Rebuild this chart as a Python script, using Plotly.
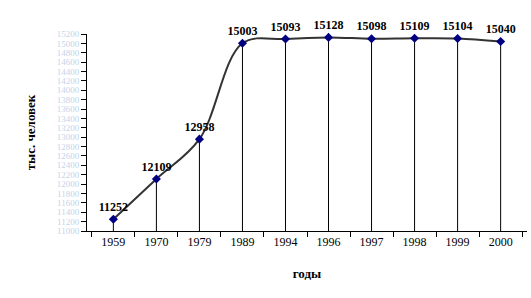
import plotly.graph_objects as go

years = ["1959", "1970", "1979", "1989", "1994", "1996", "1997", "1998", "1999", "2000"]
population = [11252, 12109, 12958, 15003, 15093, 15128, 15098, 15109, 15104, 15040]
y_ticks = list(range(11000, 15201, 200))
y_tick_labels = [str(v) for v in y_ticks]
y_base = 11000

fig = go.Figure()
fig.add_trace(go.Scatter(
    x=years, y=population,
    mode="lines+markers+text",
    line=dict(color="#333333", width=2, shape="spline", smoothing=1),
    marker=dict(symbol="diamond", size=7, color="#000080"),
    text=["<b>%d</b>" % v for v in population],
    textposition="top center",
    textfont=dict(family="Liberation Serif", size=12, color="black"),
    error_y=dict(type="data", symmetric=False,
                 array=[0] * len(population),
                 arrayminus=[v - y_base for v in population],
                 color="black", thickness=1, width=0),
    cliponaxis=False,
    showlegend=False,
))

fig.update_layout(
    width=531, height=298,
    margin=dict(l=87, r=4, t=34, b=67),
    paper_bgcolor="white", plot_bgcolor="white",
    font=dict(family="Liberation Serif", color="black"),
    xaxis=dict(
        type="category", tickson="boundaries",
        showline=True, linecolor="black", linewidth=1,
        ticks="outside", ticklen=5, tickcolor="black",
        showgrid=False, zeroline=False,
        tickfont=dict(family="Liberation Serif", size=12, color="black"),
        title=dict(text="<b>годы</b>", font=dict(family="Liberation Serif", size=13), standoff=20),
    ),
    yaxis=dict(
        range=[11000, 15200],
        tickvals=y_ticks, ticktext=y_tick_labels,
        showline=True, linecolor="black", linewidth=1,
        ticks="outside", ticklen=5, tickcolor="black",
        showgrid=False, zeroline=False,
        tickfont=dict(family="Liberation Serif", size=9, color="#c3d4ea"),
        title=dict(text="<b>тыс. человек</b>", font=dict(family="Liberation Serif", size=13), standoff=18),
    ),
)

fig.write_html("out.html")
